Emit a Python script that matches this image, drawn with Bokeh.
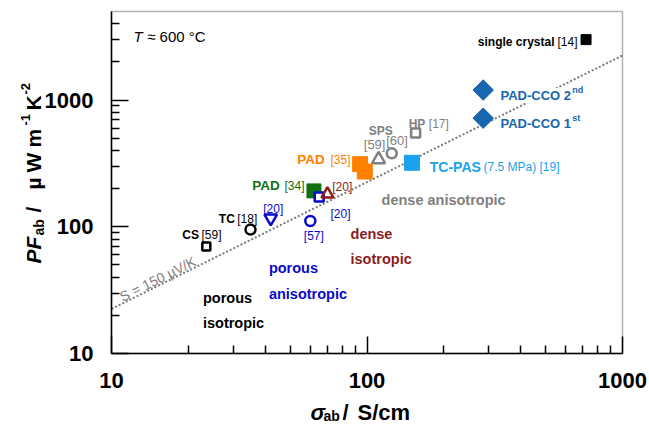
import math
from bokeh.plotting import figure
from bokeh.models import Range1d, FixedTicker, CustomJSTickFormatter, Label, BoxAnnotation
from bokeh.embed import file_html
from bokeh.resources import INLINE

# ---------------- data ----------------
x_ticks = [10, 100, 1000]
y_ticks = [10, 100, 1000]
x_lim = (10, 1000)
y_lim = (10, 5000)

sc_sigma, sc_pf = [720], [3000]                # single crystal [14]
cco1_sigma, cco1_pf = [285], [720]             # PAD-CCO 1st
cco2_sigma, cco2_pf = [285], [1200]            # PAD-CCO 2nd
hp_sigma, hp_pf = [155], [550]                 # HP [17]
sps59_sigma, sps59_pf = [111], [340]           # SPS [59]
sps60_sigma, sps60_pf = [125], [380]           # SPS [60]
tcpas_sigma, tcpas_pf = [150], [320]           # TC-PAS [19]
pad35_sigma, pad35_pf = [94, 98], [312, 273]   # PAD [35]
pad34_sigma, pad34_pf = [62], [192]            # PAD [34]
sq20_sigma, sq20_pf = [65], [172]              # [20] blue square
tri20_sigma, tri20_pf = [70], [181]            # [20] dark red triangle
dtri20_sigma, dtri20_pf = [42], [117]          # [20] blue inverted triangle
c57_sigma, c57_pf = [60], [111]                # [57]
tc18_sigma, tc18_pf = [35], [95]               # TC [18]
cs59_sigma, cs59_pf = [23.5], [70]             # CS [59]

S_uV = 150                                     # Seebeck line
line_sigma = [10, 1000]
line_pf = [S_uV ** 2 * 1e-4 * s for s in line_sigma]

# ---------------- colours ----------------
GRAY = "#808080"
BLUE = "#0a0acd"
DRED = "#8b1c1c"
GREEN = "#117011"
ORANGE = "#ff8000"
LBLUE = "#1aa3ec"
DBLUE = "#1866ad"
FONT = "Liberation Sans"

# ---------------- layout: canvas and the boxed plot area inside it ----------------
W, H = 649, 427
ML, MR, MT, MB = 111, 27, 11, 74          # margins of the boxed area in the canvas
dec_x = (W - ML - MR) / math.log10(x_lim[1] / x_lim[0])
dec_y = (H - MT - MB) / math.log10(y_lim[1] / y_lim[0])
xr = Range1d(x_lim[0] * 10 ** (-ML / dec_x), x_lim[1] * 10 ** (MR / dec_x))
yr = Range1d(y_lim[0] * 10 ** (-MB / dec_y), y_lim[1] * 10 ** (MT / dec_y))

p = figure(x_axis_type="log", y_axis_type="log", x_range=xr, y_range=yr,
           width=W, height=H, min_border=0,
           output_backend="svg", toolbar_location=None,
           background_fill_color="white", border_fill_color="white")
p.outline_line_color = None
p.xgrid.visible = False
p.ygrid.visible = False

def minors(ticks):
    out = []
    for t in ticks:
        out += [m * t for m in range(2, 10)]
    return out

p.xaxis[0].fixed_location = y_lim[0]
p.yaxis[0].fixed_location = x_lim[0]
p.xaxis[0].bounds = x_lim
p.yaxis[0].bounds = y_lim

for ax, ticks, stand in ((p.xaxis[0], x_ticks, 19), (p.yaxis[0], y_ticks, 18)):
    ax.ticker = FixedTicker(ticks=ticks, minor_ticks=[t for t in minors(ticks) if t < 5000])
    ax.formatter = CustomJSTickFormatter(code="return tick.toFixed(0)")
    ax.major_tick_in = 17
    ax.major_tick_out = 0
    ax.minor_tick_in = 8
    ax.minor_tick_out = 0
    ax.axis_line_width = 1.5
    ax.major_tick_line_width = 1.5
    ax.minor_tick_line_width = 1.5
    ax.major_label_standoff = stand
    ax.major_label_text_font = FONT
    ax.major_label_text_font_size = "22px"
    ax.major_label_text_font_style = "bold"
    ax.major_label_text_color = "black"
    ax.axis_label = None

# box around the plot area
p.add_layout(BoxAnnotation(left=x_lim[0], right=x_lim[1], bottom=y_lim[0], top=y_lim[1],
                           fill_alpha=0, line_color="black", line_width=1.5))

# ---------------- Seebeck line ----------------
p.line(line_sigma, line_pf, line_color="#7a7a7a", line_width=2, line_dash="2 2")

# ---------------- markers ----------------
LW = 2.5
p.scatter(sc_sigma, sc_pf, marker="square", size=10, fill_color="black", line_color="black")
p.scatter(cco1_sigma + cco2_sigma, cco1_pf + cco2_pf, marker="square", angle=math.pi / 4,
          size=14.5, fill_color=DBLUE, line_color=DBLUE)
p.scatter(hp_sigma, hp_pf, marker="square", size=9, fill_color=None, line_color=GRAY, line_width=LW)
p.scatter(sps59_sigma, sps59_pf, marker="triangle", size=13, fill_color=None, line_color=GRAY, line_width=LW)
p.scatter(sps60_sigma, sps60_pf, marker="circle", size=10, fill_color=None, line_color=GRAY, line_width=LW)
p.scatter(tcpas_sigma, tcpas_pf, marker="square", size=15, fill_color=LBLUE, line_color=LBLUE)
p.scatter(pad35_sigma, pad35_pf, marker="square", size=15, fill_color=ORANGE, line_color=ORANGE)
p.scatter(pad34_sigma, pad34_pf, marker="square", size=14, fill_color=GREEN, line_color=GREEN)
p.scatter(sq20_sigma, sq20_pf, marker="square", size=9, fill_color="white", line_color=BLUE, line_width=LW)
p.scatter(tri20_sigma, tri20_pf, marker="triangle", size=12, fill_color=None, line_color=DRED, line_width=LW)
p.scatter(dtri20_sigma, dtri20_pf, marker="inverted_triangle", size=12.5, fill_color=None, line_color=BLUE, line_width=LW)
p.scatter(c57_sigma, c57_pf, marker="circle", size=10, fill_color=None, line_color=BLUE, line_width=LW)
p.scatter(tc18_sigma, tc18_pf, marker="circle", size=10, fill_color=None, line_color="black", line_width=LW)
p.scatter(cs59_sigma, cs59_pf, marker="square", size=8, fill_color=None, line_color="black", line_width=LW)


def lab(x, y, text, size, color, style="normal", xo=0, yo=0, align="left", angle=0, bg=None):
    p.add_layout(Label(x=x, y=y, x_offset=xo, y_offset=yo, text=text,
                       text_font=FONT, text_font_size=f"{size}px", text_color=color,
                       text_font_style=style, text_align=align, text_baseline="alphabetic",
                       angle=angle, background_fill_color=bg))


# point labels (offsets in px from the point they describe)
lab(sc_sigma[0], sc_pf[0], "[14]", 12, "black", xo=-8.5, yo=-2.6, align="right")
lab(sc_sigma[0], sc_pf[0], "single crystal", 12, "black", "bold", xo=-31.5, yo=-2.6, align="right")

lab(cco2_sigma[0], cco2_pf[0], "PAD-CCO 2", 13, DBLUE, "bold", xo=17.3, yo=-5.5, bg="white")
lab(cco2_sigma[0], cco2_pf[0], "nd", 9, DBLUE, "bold", xo=89, yo=0)
lab(cco1_sigma[0], cco1_pf[0], "PAD-CCO 1", 13, DBLUE, "bold", xo=17.3, yo=-5.5, bg="white")
lab(cco1_sigma[0], cco1_pf[0], "st", 9, DBLUE, "bold", xo=89, yo=0)

lab(hp_sigma[0], hp_pf[0], "HP", 12, GRAY, "bold", xo=-7, yo=9)
lab(hp_sigma[0], hp_pf[0], "[17]", 12, GRAY, xo=13.2, yo=9)
lab(sps59_sigma[0], sps59_pf[0], "SPS", 12, GRAY, "bold", xo=-9.8, yo=28.5)
lab(sps59_sigma[0], sps59_pf[0], "[59]", 13, GRAY, xo=-14.8, yo=15)
lab(sps60_sigma[0], sps60_pf[0], "[60]", 13, GRAY, xo=-5.6, yo=12.4)

lab(tcpas_sigma[0], tcpas_pf[0], "TC-PAS", 14, LBLUE, "bold", xo=17.8, yo=-4.6)
lab(tcpas_sigma[0], tcpas_pf[0], "(7.5 MPa) [19]", 12, LBLUE, xo=71.5, yo=-4.6)

lab(pad35_sigma[0], pad35_pf[0], "PAD", 13.5, ORANGE, "bold", xo=-63, yo=4.2)
lab(pad35_sigma[0], pad35_pf[0], "[35]", 12, ORANGE, xo=-29.6, yo=4.2)
lab(pad34_sigma[0], pad34_pf[0], "PAD", 13.5, GREEN, "bold", xo=-61.8, yo=5)
lab(pad34_sigma[0], pad34_pf[0], "[34]", 12, GREEN, xo=-29.5, yo=5)

lab(tri20_sigma[0], tri20_pf[0], "[20]", 12, DRED, xo=4.8, yo=7.3)
lab(sq20_sigma[0], sq20_pf[0], "[20]", 12, BLUE, xo=11.3, yo=-16.9)
lab(dtri20_sigma[0], dtri20_pf[0], "[20]", 12, BLUE, xo=-7.5, yo=9.3)
lab(c57_sigma[0], c57_pf[0], "[57]", 12, BLUE, xo=-6.5, yo=-15)

lab(tc18_sigma[0], tc18_pf[0], "TC", 12, "black", "bold", xo=-31.7, yo=10.3)
lab(tc18_sigma[0], tc18_pf[0], "[18]", 12, "black", xo=-13.3, yo=10.3)
lab(cs59_sigma[0], cs59_pf[0], "CS", 12, "black", "bold", xo=-24, yo=11.4)
lab(cs59_sigma[0], cs59_pf[0], "[59]", 12, "black", xo=-4.8, yo=11.4)

# region labels
lab(114.0, 163.2, "dense anisotropic", 14.5, GRAY, "bold")
lab(86.2, 87.6, "dense", 14.5, DRED, "bold")
lab(86.2, 55.5, "isotropic", 14.5, DRED, "bold")
lab(41.3, 47.6, "porous", 14.5, BLUE, "bold")
lab(41.3, 29.7, "anisotropic", 14.5, BLUE, "bold")
lab(22.8, 27.6, "porous", 14.5, "black", "bold")
lab(22.8, 17.5, "isotropic", 14.5, "black", "bold")

# temperature note
lab(12.19, 3190, "T", 15, "black", "italic")
lab(13.79, 3190, "\u2248 600 \u00b0C", 15, "black")

# Seebeck line label, parallel to the line
ang = math.atan2(dec_y, dec_x)
lab(10.84, S_uV ** 2 * 1e-4 * 10.84, "S = 150 \u00b5V/K", 14, GRAY, xo=0, yo=7, angle=ang)

# ---------------- axis titles (composed; px offsets from the box's bottom-left corner) ----------------
R = math.pi / 2
X0, Y0 = x_lim[0], y_lim[0]
lab(X0, Y0, "PF", 21, "black", "bold italic", xo=-78, yo=90, angle=R)
lab(X0, Y0, "ab", 14, "black", "bold", xo=-73, yo=118, angle=R)
lab(X0, Y0, "/", 21, "black", "bold", xo=-78, yo=141, angle=R)
lab(X0, Y0, "\u00b5", 21, "black", "bold", xo=-78, yo=164, angle=R)
lab(X0, Y0, "W", 21, "black", "bold", xo=-78, yo=181, angle=R)
lab(X0, Y0, "m", 21, "black", "bold", xo=-78, yo=206, angle=R)
lab(X0, Y0, "-1", 13, "black", "bold", xo=-86, yo=228, angle=R)
lab(X0, Y0, "K", 21, "black", "bold", xo=-78, yo=243, angle=R)
lab(X0, Y0, "-2", 13, "black", "bold", xo=-86, yo=259, angle=R)

lab(X0, Y0, "\u03c3", 22, "black", "bold italic", xo=199, yo=-58.7)
lab(X0, Y0, "ab", 14, "black", "bold", xo=212, yo=-62.5)
lab(X0, Y0, "/", 22, "black", "bold", xo=231, yo=-58.7)
lab(X0, Y0, "S/cm", 22, "black", "bold", xo=246, yo=-58.7)

open("out.html", "w").write(file_html(p, INLINE))
